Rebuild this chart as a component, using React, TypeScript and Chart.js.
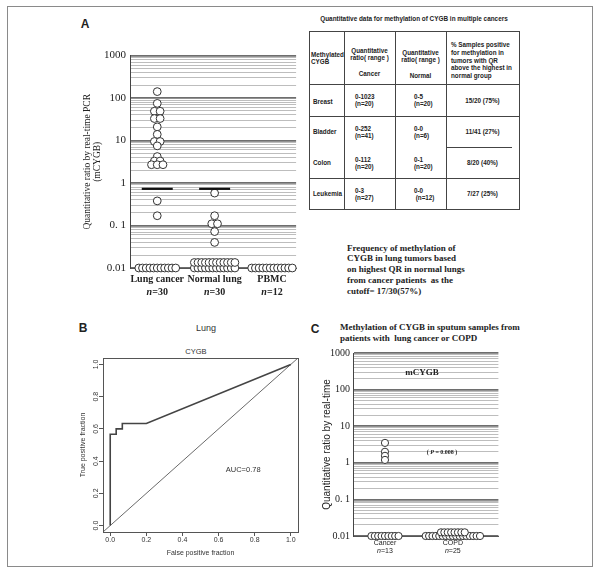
import React, { useEffect, useRef } from "react";
import { Chart, registerables } from "chart.js";
Chart.register(...registerables);

const SERIF = '"Liberation Serif", "DejaVu Serif", serif';
const SANS = '"Liberation Sans", Arial, sans-serif';

// ---------------- Panel A data ----------------
const groupsA = ["Lung cancer", "Normal lung", "PBMC"];
const groupSizesA = [30, 30, 12];
const lungCancerQR = [
  142, 75, 49, 49, 33, 33, 21, 14, 9.5, 9.5, 7.5, 4.2, 3.3, 3.3, 2.7, 2.7, 2.7, 0.38, 0.17,
  0.01, 0.01, 0.01, 0.01, 0.01, 0.01, 0.01, 0.01, 0.01, 0.01, 0.01,
];
const normalLungQR = [
  0.58, 0.17, 0.11, 0.11, 0.072, 0.04,
  0.01, 0.01, 0.01, 0.01, 0.01, 0.01, 0.01, 0.01, 0.01, 0.01, 0.01, 0.01,
  0.01, 0.01, 0.01, 0.01, 0.01, 0.01, 0.01, 0.01, 0.01, 0.01, 0.01, 0.01,
];
const pbmcQR = [0.01, 0.01, 0.01, 0.01, 0.01, 0.01, 0.01, 0.01, 0.01, 0.01, 0.01, 0.01];
const cutoffQR = [0.73, 0.73]; // horizontal bars for Lung cancer and Normal lung
const qrMin = 0.01;
const qrMax = 1000;
const qrTickLabels = ["0.01", "0. 1", "1", "10", "100", "1000"];

// ---------------- Table data ----------------
const tableTitle = "Quantitative data for methylation of CYGB in multiple cancers";
const tableHeader = [
  ["Methylated", "CYGB"],
  ["Quantitative", "ratio( range )", "\u00a0", "Cancer"],
  ["Quantitative", "ratio( range )", "\u00a0", "Normal"],
  ["% Samples positive", "for methylation in", "tumors with QR", "above the highest in", "normal group"],
];
const tableCancers = ["Breast", "Bladder", "Colon", "Leukemia"];
const tableCancerRange = ["0-1023", "0-252", "0-112", "0-3"];
const tableCancerN = ["(n=20)", "(n=41)", "(n=20)", "(n=27)"];
const tableNormalRange = ["0-5", "0-0", "0-1", "0-0"];
const tableNormalN = ["(n=20)", "(n=6)", "(n=20)", "(n=12)"];
const tablePositive = ["15/20 (75%)", "11/41 (27%)", "8/20 (40%)", "7/27 (25%)"];

const paragraphLines = [
  "Frequency of methylation of",
  "CYGB in lung tumors based",
  "on highest QR in normal lungs",
  "from cancer patients  as the",
  "cutoff= 17/30(57%)",
];

// ---------------- Panel B data ----------------
const rocFPR = [0, 0, 0.033, 0.033, 0.067, 0.067, 0.2, 1];
const rocTPR = [0, 0.567, 0.567, 0.6, 0.6, 0.633, 0.633, 1];
const rocTicks = [0, 0.2, 0.4, 0.6, 0.8, 1];
const rocMin = -0.04;
const rocMax = 1.04;
const aucText = "AUC=0.78";

// ---------------- Panel C data ----------------
const groupsC = ["Cancer", "COPD"];
const groupSizesC = [13, 25];
const sputumCancerQR = [3.5, 2.0, 1.55, 1.2, 0.01, 0.01, 0.01, 0.01, 0.01, 0.01, 0.01, 0.01, 0.01];
const sputumCopdQR = [
  0.01, 0.01, 0.01, 0.01, 0.01, 0.01, 0.01, 0.01, 0.01, 0.01, 0.01, 0.01, 0.01,
  0.01, 0.01, 0.01, 0.01, 0.01, 0.01, 0.01, 0.01, 0.01, 0.01, 0.01, 0.01,
];

// ---------------- helpers ----------------
type Pt = { x: number; y: number };

function minorLogTicks(min: number, max: number) {
  const out: number[] = [];
  const e0 = Math.round(Math.log10(min));
  const e1 = Math.round(Math.log10(max));
  for (let e = e0; e < e1; e++)
    for (let m = 1; m <= 9; m++) out.push(Number((m * Math.pow(10, e)).toPrecision(6)));
  out.push(max);
  return out;
}
const isDecade = (v: number) => Math.abs(Math.log10(v) - Math.round(Math.log10(v))) < 1e-6;
function decadeLabel(v: number, labels: string[]) {
  if (!isDecade(v)) return "";
  const idx = Math.round(Math.log10(v)) - Math.round(Math.log10(qrMin));
  return labels[idx] ?? "";
}

// dot-plot layout: identical values are spread sideways; floor values are laid in rows
function swarm(values: number[], cat: number, o: { perRow: number; dx: number; rowStep: number; pairDx: number }): Pt[] {
  const pts: Pt[] = [];
  const above = values.filter((v) => v > qrMin);
  const nFloor = values.length - above.length;
  const counts = new Map<number, number>();
  above.forEach((v) => counts.set(v, (counts.get(v) || 0) + 1));
  const seen = new Map<number, number>();
  above.forEach((v) => {
    const k = counts.get(v)!;
    const i = seen.get(v) || 0;
    seen.set(v, i + 1);
    pts.push({ x: cat + (i - (k - 1) / 2) * o.pairDx, y: v });
  });
  let row = 0;
  let placed = 0;
  while (placed < nFloor) {
    const m = Math.min(o.perRow, nFloor - placed);
    for (let i = 0; i < m; i++)
      pts.push({ x: cat + (i - (m - 1) / 2) * o.dx, y: qrMin * Math.pow(10, row * o.rowStep) });
    placed += m;
    row++;
  }
  return pts;
}

function logAxis(fontSize: number, pad: number, width: number, title: any) {
  return {
    type: "logarithmic",
    position: "left",
    min: qrMin,
    max: qrMax,
    afterBuildTicks: (s: any) => {
      s.ticks = minorLogTicks(qrMin, qrMax).map((v) => ({ value: v }));
    },
    afterFit: (s: any) => {
      s.width = width;
    },
    ticks: {
      autoSkip: false,
      color: "#222",
      padding: pad,
      font: { family: SERIF, size: fontSize },
      callback: (v: any) => decadeLabel(Number(v), qrTickLabels),
    },
    grid: {
      drawTicks: false,
      color: (c: any) => (c.tick && isDecade(c.tick.value) ? "#6e6e6e" : "#bdbdbd"),
      lineWidth: (c: any) => (c.tick && isDecade(c.tick.value) ? 1.8 : 1),
    },
    border: { display: true, color: "#444", width: 1 },
    title,
  };
}

function catLabelsPlugin(names: string[], sizes: number[], o: { nameFont: string; nFont: string; restFont: string; dy1: number; dy2: number }) {
  return {
    id: "catLabels",
    afterDraw(chart: any) {
      const { ctx, chartArea } = chart;
      const xs = chart.scales.x;
      names.forEach((name, i) => {
        const cx = xs.getPixelForValue(i);
        ctx.save();
        ctx.fillStyle = "#222";
        ctx.textBaseline = "middle";
        ctx.textAlign = "center";
        ctx.font = o.nameFont;
        ctx.fillText(name, cx, chartArea.bottom + o.dy1);
        const rest = "=" + sizes[i];
        ctx.font = o.nFont;
        const w1 = ctx.measureText("n").width;
        ctx.font = o.restFont;
        const w2 = ctx.measureText(rest).width;
        const l = cx - (w1 + w2) / 2;
        ctx.textAlign = "left";
        ctx.font = o.nFont;
        ctx.fillText("n", l, chartArea.bottom + o.dy2);
        ctx.font = o.restFont;
        ctx.fillText(rest, l + w1, chartArea.bottom + o.dy2);
        ctx.restore();
      });
    },
  };
}

const dotStyle = (r: number) => ({
  pointRadius: r,
  pointHoverRadius: r,
  pointBackgroundColor: "#ffffff",
  pointBorderColor: "#333",
  pointBorderWidth: 1,
  showLine: false,
  clip: false as any,
  order: 1,
});

// ---------------- chart builders ----------------
function buildA(): any {
  const opt = { perRow: 12, dx: 0.0643, rowStep: 0.13, pairDx: 0.1 };
  const series = [lungCancerQR, normalLungQR, pbmcQR];
  return {
    type: "scatter",
    data: {
      datasets: [
        ...cutoffQR.map((c, i) => ({
          data: [
            { x: i - 0.27, y: c },
            { x: i + 0.27, y: c },
          ],
          showLine: true,
          borderColor: "#111",
          borderWidth: 2.2,
          pointRadius: 0,
          clip: false,
          order: 0,
        })),
        ...series.map((vals, i) => ({ data: swarm(vals, i, opt), ...dotStyle(3.9) })),
      ],
    },
    options: {
      responsive: false,
      animation: false,
      devicePixelRatio: 1,
      layout: { padding: { top: 10, left: 0, right: 0, bottom: 0 } },
      plugins: { legend: { display: false }, tooltip: { enabled: false } },
      scales: {
        x: {
          type: "linear",
          min: -0.475,
          max: 2.42,
          ticks: { display: false },
          grid: { display: false },
          border: { display: true, color: "#555", width: 1 },
          afterFit: (s: any) => {
            s.height = 37;
          },
        },
        y: logAxis(11, 4, 90, {
          display: true,
          text: ["Quantitative ratio by real-time PCR", "(mCYGB)"],
          color: "#222",
          font: { family: SERIF, size: 9.5, lineHeight: 1.05 },
          padding: { top: 43 },
        }),
      },
    },
    plugins: [
      catLabelsPlugin(groupsA, groupSizesA, {
        nameFont: `bold 10px ${SERIF}`,
        nFont: `italic bold 10px ${SERIF}`,
        restFont: `bold 10px ${SERIF}`,
        dy1: 11,
        dy2: 24,
      }),
    ],
  };
}

function buildB(): any {
  const roc = rocFPR.map((x, i) => ({ x, y: rocTPR[i] }));
  return {
    type: "scatter",
    data: {
      datasets: [
        {
          data: roc,
          showLine: true,
          borderColor: "#444",
          borderWidth: 1.6,
          pointRadius: 0,
          order: 0,
        },
        {
          data: [
            { x: rocMin, y: rocMin },
            { x: rocMax, y: rocMax },
          ],
          showLine: true,
          borderColor: "#6a6a6a",
          borderWidth: 1,
          pointRadius: 0,
          order: 1,
        },
      ],
    },
    options: {
      responsive: false,
      animation: false,
      devicePixelRatio: 1,
      layout: { padding: { top: 18, left: 0, right: 7, bottom: 0 } },
      plugins: { legend: { display: false }, tooltip: { enabled: false } },
      scales: {
        x: {
          type: "linear",
          min: rocMin,
          max: rocMax,
          afterBuildTicks: (s: any) => {
            s.ticks = rocTicks.map((v) => ({ value: v }));
          },
          ticks: {
            autoSkip: false,
            maxRotation: 0,
            padding: 0,
            color: "#333",
            font: { family: SANS, size: 7 },
            callback: (v: any) => Number(v).toFixed(1),
          },
          grid: { drawOnChartArea: false, drawTicks: true, tickLength: 4, color: "#555" },
          border: { display: false },
          title: {
            display: true,
            text: "False positive fraction",
            color: "#333",
            font: { family: SANS, size: 7 },
            padding: { top: 0, bottom: 8 },
          },
          afterFit: (s: any) => {
            s.height = 33;
          },
        },
        y: {
          type: "linear",
          min: rocMin,
          max: rocMax,
          afterBuildTicks: (s: any) => {
            s.ticks = rocTicks.map((v) => ({ value: v }));
          },
          ticks: { display: false },
          grid: { drawOnChartArea: false, drawTicks: true, tickLength: 4, color: "#555" },
          border: { display: false },
          title: {
            display: true,
            text: "True positive fraction",
            color: "#333",
            font: { family: SANS, size: 7 },
            padding: { top: 18.8 },
          },
          afterFit: (s: any) => {
            s.width = 43;
          },
        },
      },
    },
    plugins: [
      {
        id: "rocDecor",
        afterDraw(chart: any) {
          const { ctx, chartArea: a } = chart;
          const ys = chart.scales.y;
          const xs = chart.scales.x;
          ctx.save();
          ctx.strokeStyle = "#555";
          ctx.lineWidth = 1;
          ctx.strokeRect(Math.round(a.left) + 0.5, Math.round(a.top) + 0.5, Math.round(a.right - a.left), Math.round(a.bottom - a.top));
          ctx.fillStyle = "#333";
          ctx.font = `7px ${SANS}`;
          ctx.textAlign = "center";
          ctx.textBaseline = "middle";
          rocTicks.forEach((v) => {
            ctx.save();
            ctx.translate(a.left - 7, ys.getPixelForValue(v));
            ctx.rotate(-Math.PI / 2);
            ctx.fillText(v.toFixed(1), 0, 0);
            ctx.restore();
          });
          ctx.textAlign = "left";
          ctx.font = `7.5px ${SANS}`;
          ctx.fillText(aucText, xs.getPixelForValue(0.64), ys.getPixelForValue(0.345));
          ctx.restore();
        },
      },
    ],
  };
}

function buildC(): any {
  const opt = { perRow: 17, dx: 0.05, rowStep: 0.1, pairDx: 0.09 };
  const series = [sputumCancerQR, sputumCopdQR];
  return {
    type: "scatter",
    data: {
      datasets: series.map((vals, i) => ({ data: swarm(vals, i, opt), ...dotStyle(3.6) })),
    },
    options: {
      responsive: false,
      animation: false,
      devicePixelRatio: 1,
      layout: { padding: { top: 10, left: 0, right: 0, bottom: 0 } },
      plugins: { legend: { display: false }, tooltip: { enabled: false } },
      scales: {
        x: {
          type: "linear",
          min: -0.471,
          max: 1.671,
          ticks: { display: false },
          grid: { display: false },
          border: { display: true, color: "#555", width: 1 },
          afterFit: (s: any) => {
            s.height = 32;
          },
        },
        y: logAxis(10, 3, 43, {
          display: true,
          text: "Quantitative ratio by real-time",
          color: "#222",
          font: { family: SANS, size: 10 },
          padding: { top: 11 },
        }),
      },
    },
    plugins: [
      catLabelsPlugin(groupsC, groupSizesC, {
        nameFont: `7px ${SANS}`,
        nFont: `italic 7px ${SANS}`,
        restFont: `7px ${SANS}`,
        dy1: 7,
        dy2: 15,
      }),
    ],
  };
}

// ---------------- components ----------------
function ChartCanvas({ left, top, width, height, build }: { left: number; top: number; width: number; height: number; build: () => any }) {
  const ref = useRef<HTMLCanvasElement>(null);
  useEffect(() => {
    const chart = new Chart(ref.current as HTMLCanvasElement, build());
    return () => chart.destroy();
  }, []);
  return <canvas ref={ref} width={width} height={height} style={{ position: "absolute", left, top, width, height }} />;
}

function Label({ cx, cy, font, children, color = "#222" }: { cx: number; cy: number; font: string; children: any; color?: string }) {
  return (
    <div
      style={{
        position: "absolute",
        left: cx,
        top: cy,
        transform: "translate(-50%, -50%)",
        font,
        lineHeight: 1,
        whiteSpace: "nowrap",
        color,
      }}
    >
      {children}
    </div>
  );
}

const colEdges = [309, 344, 395, 446, 519];
const rowEdges = [31, 84, 116, 147, 178, 209];
const TFONT = `bold 6.3px ${SANS}`;

function CancerTable() {
  const line = (l: number, t: number, w: number, h: number, key: string) => (
    <div key={key} style={{ position: "absolute", left: l, top: t, width: w, height: h, background: "#444" }} />
  );
  const lines: any[] = [];
  lines.push(line(colEdges[0], rowEdges[0], colEdges[4] - colEdges[0] + 1, 1, "t"));
  lines.push(line(colEdges[0], rowEdges[5], colEdges[4] - colEdges[0] + 1, 1, "b"));
  colEdges.forEach((x, i) => lines.push(line(x, rowEdges[0], 1, rowEdges[5] - rowEdges[0], "v" + i)));
  [1, 2, 4].forEach((r) => lines.push(line(colEdges[0], rowEdges[r], colEdges[4] - colEdges[0], 1, "h" + r)));
  lines.push(line(colEdges[3], rowEdges[3], 66, 1, "hp"));

  const cell = (c: number, r: number, content: any, opts: { align?: string; padL?: number; padT?: number; lh?: number }, key: string) => (
    <div
      key={key}
      style={{
        position: "absolute",
        left: colEdges[c],
        top: rowEdges[r],
        width: colEdges[c + 1] - colEdges[c],
        height: rowEdges[r + 1] - rowEdges[r],
        display: "flex",
        flexDirection: "column",
        justifyContent: "center",
        alignItems: opts.align === "center" ? "center" : "flex-start",
        textAlign: opts.align === "center" ? "center" : "left",
        boxSizing: "border-box",
        paddingLeft: opts.padL || 0,
        paddingTop: opts.padT || 0,
        font: TFONT,
        lineHeight: (opts.lh || 7) + "px",
        color: "#222",
        whiteSpace: "nowrap",
      }}
    >
      {content}
    </div>
  );
  const lns = (arr: string[]) => arr.map((s, i) => <div key={i}>{s}</div>);
  const cells: any[] = [];
  cells.push(cell(0, 0, lns(tableHeader[0]), { padL: 2, padT: -2, lh: 7 }, "h0"));
  cells.push(cell(1, 0, lns(tableHeader[1]), { align: "center", padT: 9, lh: 7.6 }, "h1"));
  cells.push(cell(2, 0, lns(tableHeader[2]), { align: "center", padT: 13, lh: 7.6 }, "h2"));
  cells.push(cell(3, 0, lns(tableHeader[3]), { padL: 5, padT: 6, lh: 7.75 }, "h3"));
  tableCancers.forEach((name, i) => {
    const r = i + 1;
    const shift = [3, -2, -8, -6][i];
    cells.push(cell(0, r, <div>{name}</div>, { padL: 4, padT: shift }, "c0" + i));
    cells.push(cell(1, r, lns([tableCancerRange[i], tableCancerN[i]]), { padL: 11, padT: [-3, 0, -1, 0][i] }, "c1" + i));
    cells.push(cell(2, r, lns([tableNormalRange[i], i === 3 ? "\u00a0" + tableNormalN[i] : tableNormalN[i]]), { padL: 19, padT: [-3, 0, -1, 0][i] }, "c2" + i));
    cells.push(cell(3, r, <div>{tablePositive[i]}</div>, { align: "center", padT: [-4, -4, -2, 0][i] }, "c3" + i));
  });
  return (
    <>
      <Label cx={(colEdges[0] + colEdges[4]) / 2} cy={19} font={`bold 6.4px ${SANS}`}>
        {tableTitle}
      </Label>
      {lines}
      {cells}
    </>
  );
}

export default function App() {
  return (
    <div
      style={{
        position: "absolute",
        left: 0,
        top: 0,
        width: 600,
        height: 574,
        background: "#fff",
        overflow: "hidden",
        fontFamily: SANS,
      }}
    >
      <div
        style={{
          position: "absolute",
          left: 7,
          top: 6,
          width: 586,
          height: 561,
          border: "1px solid #8a8a8a",
          boxSizing: "border-box",
        }}
      />
      <Label cx={85} cy={24} font={`bold 12px ${SANS}`}>A</Label>
      <ChartCanvas left={40} top={45} width={261} height={260} build={buildA} />
      <CancerTable />
      <div
        style={{
          position: "absolute",
          left: 347,
          top: 242.5,
          font: `bold 9px ${SERIF}`,
          lineHeight: "10.75px",
          whiteSpace: "pre",
          color: "#222",
        }}
      >
        {paragraphLines.join("\n")}
      </div>

      <Label cx={83} cy={328} font={`bold 12px ${SANS}`}>B</Label>
      <Label cx={206} cy={328} font={`9px ${SANS}`} color="#333">Lung</Label>
      <Label cx={196} cy={352} font={`7.5px ${SANS}`} color="#333">CYGB</Label>
      <ChartCanvas left={60} top={340} width={245} height={225} build={buildB} />

      <Label cx={315} cy={329} font={`bold 12px ${SANS}`}>C</Label>
      <div
        style={{
          position: "absolute",
          left: 340,
          top: 321.5,
          font: `bold 9px ${SERIF}`,
          lineHeight: "11px",
          whiteSpace: "pre",
          color: "#222",
        }}
      >
        {"Methylation of CYGB in sputum samples from\npatients with  lung cancer or COPD"}
      </div>
      <ChartCanvas left={310} top={343} width={193} height={225} build={buildC} />
      <Label cx={422} cy={372} font={`bold 9px ${SERIF}`}>mCYGB</Label>
      <Label cx={442} cy={452} font={`bold 6px ${SERIF}`}>
        {"( "}
        <i>P</i>
        {" = 0.008 )"}
      </Label>
    </div>
  );
}
